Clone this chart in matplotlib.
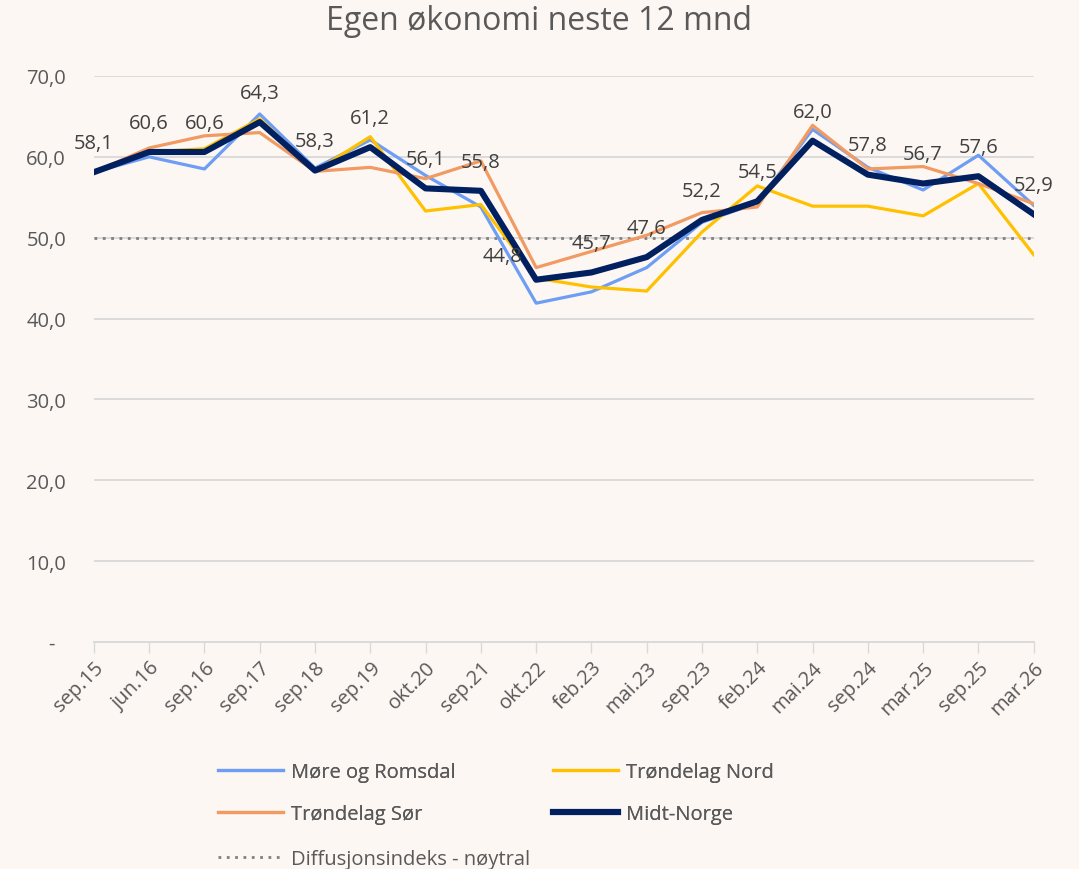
import numpy as np
import matplotlib
matplotlib.use("Agg")
import matplotlib.pyplot as plt

# data
periods = ["sep.15", "jun.16", "sep.16", "sep.17", "sep.18", "sep.19", "okt.20", "sep.21", "okt.22",
           "feb.23", "mai.23", "sep.23", "feb.24", "mai.24", "sep.24", "mar.25", "sep.25", "mar.26"]
more_romsdal = [58.1, 60.0, 58.5, 65.3, 58.6, 62.1, 57.7, 53.8, 41.9,
                43.3, 46.3, 51.9, 54.3, 63.4, 58.7, 55.9, 60.2, 54.0]
trondelag_nord = [58.1, 60.6, 61.0, 64.7, 58.2, 62.5, 53.3, 54.1, 45.0,
                  43.9, 43.4, 50.7, 56.4, 53.9, 53.9, 52.7, 56.7, 47.9]
trondelag_sor = [58.1, 61.1, 62.6, 63.0, 58.2, 58.7, 57.3, 59.5, 46.3,
                 48.3, 50.3, 53.1, 53.8, 63.9, 58.5, 58.8, 56.7, 54.2]
midt_norge = [58.1, 60.6, 60.6, 64.3, 58.3, 61.2, 56.1, 55.8, 44.8,
              45.7, 47.6, 52.2, 54.5, 62.0, 57.8, 56.7, 57.6, 52.9]
neutral = 50.0

bg = "#fdf7f4"
txt = "#595959"
fs = 14.5
plt.rcParams["font.family"] = ["Open Sans", "DejaVu Sans"]

fig = plt.figure(figsize=(10.79, 8.70), dpi=100, facecolor=bg)
ax = fig.add_axes([0.087, 0.261, 0.871, 0.6505], facecolor=bg)

x = np.arange(len(periods))
ax.axhline(neutral, color="#7f7f7f", lw=2.0, ls=(0, (1, 2)), zorder=2)
l1, = ax.plot(x, more_romsdal, color="#6d9ef3", lw=2.3, zorder=3)
l2, = ax.plot(x, trondelag_nord, color="#ffc000", lw=2.3, zorder=3)
l3, = ax.plot(x, trondelag_sor, color="#f19a62", lw=2.3, zorder=3)
l4, = ax.plot(x, midt_norge, color="#002060", lw=4.4, zorder=4)
ld, = ax.plot([], [], color="#7f7f7f", lw=2.0, ls=(0, (1, 2)))

for i, v in enumerate(midt_norge):
    lbl = f"{v:.1f}".replace(".", ",")
    if periods[i] == "okt.22":
        off = (-24, 17)
    else:
        off = (0, 21)
    ax.annotate(lbl, (x[i], v), xytext=off, textcoords="offset points",
                ha="center", va="center", fontsize=fs, color="#404040", zorder=5)

ax.set_xlim(0, len(periods) - 1)
ax.set_ylim(0, 70)
ax.set_yticks(range(0, 71, 10))
ax.set_yticklabels(["-  "] + [f"{v},0" for v in range(10, 71, 10)])
ax.grid(axis="y", color="#d9d9d9", lw=1.3, zorder=1)
ax.set_xticks(x)
ax.set_xticklabels(periods, rotation=45, ha="right", rotation_mode="anchor")
ax.tick_params(axis="y", length=0, pad=20, labelsize=fs, labelcolor=txt)
ax.tick_params(axis="x", length=8, width=1.0, color="#d9d9d9", pad=3, labelsize=fs, labelcolor=txt)
for s in ["left", "right", "top"]:
    ax.spines[s].set_visible(False)
ax.spines["bottom"].set_color("#d9d9d9")
ax.spines["bottom"].set_linewidth(1.3)

fig.suptitle("Egen økonomi neste 12 mnd", x=0.5, y=0.975, va="center", fontsize=23, color=txt)

leg1 = fig.legend([l1, l3, l2, l4],
                  ["Møre og Romsdal", "Trøndelag Sør", "Trøndelag Nord", "Midt-Norge"],
                  ncol=2, loc="upper left", bbox_to_anchor=(0.193, 0.135), frameon=False,
                  fontsize=fs, labelcolor=txt, handlelength=3.2, handletextpad=0.4,
                  columnspacing=4.85, labelspacing=1.1, borderpad=0)
fig.legend([ld], ["Diffusjonsindeks - nøytral"], loc="upper left", bbox_to_anchor=(0.193, 0.034),
           frameon=False, fontsize=fs, labelcolor=txt, handlelength=3.2, handletextpad=0.4,
           borderpad=0)
fig.add_artist(leg1)

fig.savefig("out.png", dpi=100, facecolor=bg)
